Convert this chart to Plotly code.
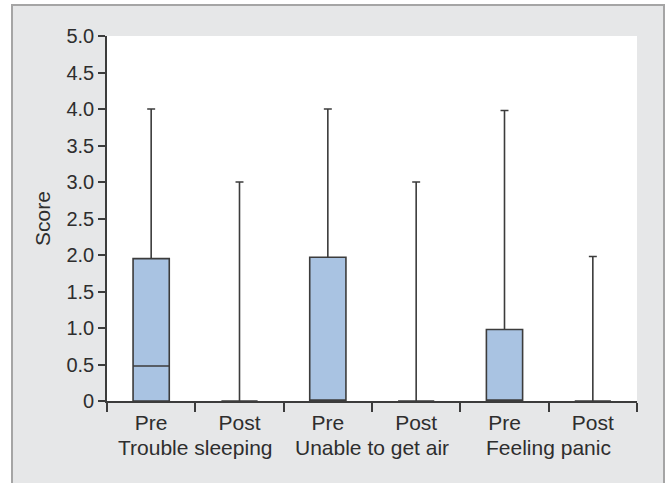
import plotly.graph_objects as go

# ---- data ----
groups = ["Trouble sleeping", "Unable to get air", "Feeling panic"]
phases = ["Pre", "Post"]
box_labels = ["Pre", "Post", "Pre", "Post", "Pre", "Post"]
q1 = [0, 0, 0, 0, 0, 0]
median = [0.48, 0, 0, 0, 0, 0]
q3 = [1.95, 0, 1.97, 0, 0.98, 0]
lower = [0, 0, 0, 0, 0, 0]
upper = [4.0, 3.0, 4.0, 3.0, 3.98, 1.98]
y_ticks = [0, 0.5, 1, 1.5, 2, 2.5, 3, 3.5, 4, 4.5, 5]
y_ticktext = ["0", "0.5", "1.0", "1.5", "2.0", "2.5", "3.0", "3.5", "4.0", "4.5", "5.0"]

positions = list(range(len(box_labels)))

FONT = "Liberation Sans, Arial, sans-serif"
TXT = "#2e2e2e"
LINE = "#3c3c3c"
GRAY = "#e6e7e8"
BORDER = "#a5a5a5"

fig = go.Figure()
fig.add_trace(go.Box(
    x=positions,
    q1=q1, median=median, q3=q3,
    lowerfence=lower, upperfence=upper,
    width=0.41, whiskerwidth=0.22,
    fillcolor="#a9c3e2",
    line=dict(color=LINE, width=1.6),
    boxpoints=False,
    showlegend=False,
    hoverinfo="skip",
))

# plot area in px: x 107..637, y 36..401
W, H = 668, 483
L, R, T, B = 107, 31, 36, 82
pw, ph = W - L - R, H - T - B


def px_x(p):
    return (p - L) / pw


def px_y(p):
    return (H - B - p) / ph


shapes = [
    dict(type="rect", xref="paper", yref="paper", x0=px_x(-5), x1=px_x(11), y0=px_y(540), y1=px_y(-5),
         fillcolor="white", line=dict(width=0), layer="below"),
    dict(type="rect", xref="paper", yref="paper", x0=px_x(-5), x1=px_x(675), y0=px_y(4), y1=px_y(-5),
         fillcolor="white", line=dict(width=0), layer="below"),
    dict(type="rect", xref="paper", yref="paper", x0=px_x(665), x1=px_x(675), y0=px_y(540), y1=px_y(-5),
         fillcolor="white", line=dict(width=0), layer="below"),
    dict(type="line", xref="paper", yref="paper", x0=px_x(12), x1=px_x(12), y0=px_y(540), y1=px_y(4),
         line=dict(color=BORDER, width=2), layer="below"),
    dict(type="line", xref="paper", yref="paper", x0=px_x(11), x1=px_x(665), y0=px_y(5), y1=px_y(5),
         line=dict(color=BORDER, width=2), layer="below"),
    dict(type="line", xref="paper", yref="paper", x0=px_x(664), x1=px_x(664), y0=px_y(540), y1=px_y(4),
         line=dict(color=BORDER, width=2), layer="below"),
]

annotations = []
for i, g in enumerate(groups):
    annotations.append(dict(
        x=2 * i + 0.5, xref="x", y=px_y(447), yref="paper",
        text=g, showarrow=False, font=dict(family=FONT, size=21, color=TXT),
        xanchor="center", yanchor="middle",
    ))

fig.update_layout(
    width=W, height=H,
    margin=dict(l=L, r=R, t=T, b=B, pad=0),
    paper_bgcolor=GRAY,
    plot_bgcolor="white",
    font=dict(family=FONT, size=21, color=TXT),
    shapes=shapes,
    annotations=annotations,
    xaxis=dict(
        range=[-0.5, 5.5],
        tickmode="array", tickvals=positions, ticktext=box_labels,
        ticks="outside", ticklen=2, tickcolor="rgba(0,0,0,0)",
        showline=True, linecolor=LINE, linewidth=1.6,
        showgrid=False, zeroline=False,
        minor=dict(tickmode="array", tickvals=[-0.5, 0.5, 1.5, 2.5, 3.5, 4.5, 5.5],
                   ticks="outside", ticklen=9, tickcolor=LINE, tickwidth=1.6, showgrid=False),
        tickfont=dict(family=FONT, size=21, color=TXT),
    ),
    yaxis=dict(
        range=[0, 5],
        tickmode="array", tickvals=y_ticks, ticktext=y_ticktext,
        ticks="outside", ticklen=7, tickcolor=LINE, tickwidth=1.6,
        showline=True, linecolor=LINE, linewidth=1.6,
        showgrid=False, zeroline=False,
        title=dict(text="Score", font=dict(family=FONT, size=21, color=TXT), standoff=10),
        tickfont=dict(family=FONT, size=20, color=TXT),
    ),
)

fig.write_html("out.html", config={"displayModeBar": False},
               post_script="document.body.style.margin='0';document.body.style.overflow='hidden';")
